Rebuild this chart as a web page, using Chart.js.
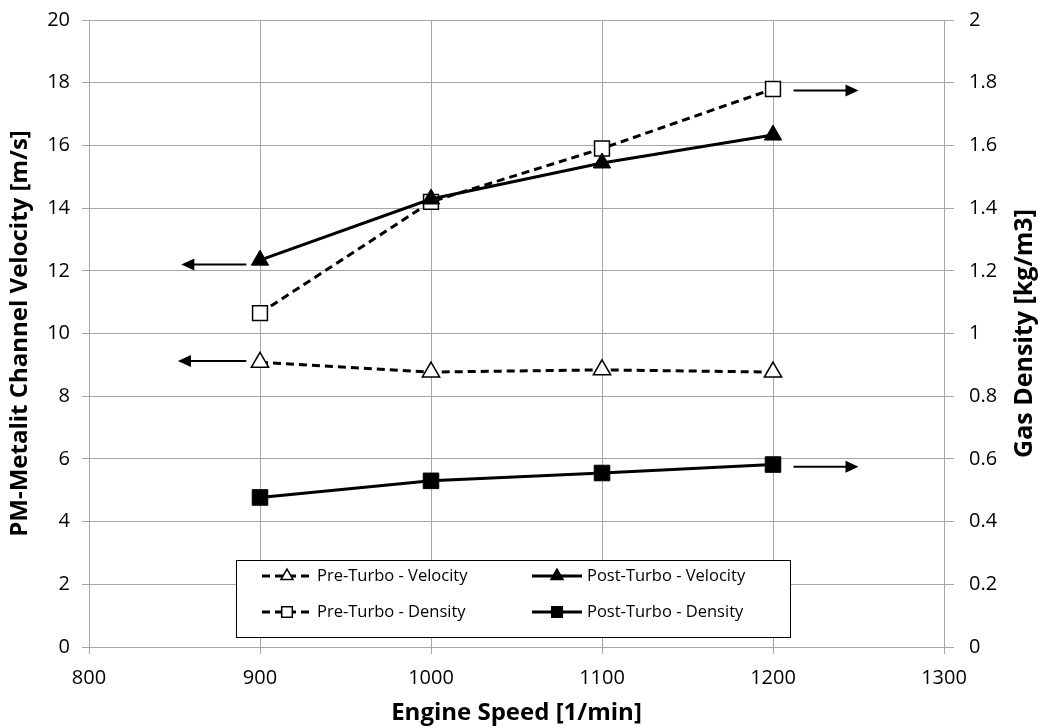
<!DOCTYPE html>
<html>
<head>
<meta charset="utf-8">
<script src="https://cdn.jsdelivr.net/npm/chart.js@4"></script>
<style>
  html, body { margin: 0; padding: 0; background: #fff; }
  #wrap { width: 1038px; height: 728px; }
</style>
</head>
<body>
<div id="wrap"><canvas id="chart" width="1038" height="728"></canvas></div>
<script>
const speeds = [900, 1000, 1100, 1200];
const preVelocity = [9.08, 8.77, 8.84, 8.77];
const postVelocity = [12.34, 14.29, 15.44, 16.33];
const preDensity = [1.065, 1.42, 1.59, 1.78];
const postDensity = [0.477, 0.53, 0.555, 0.582];

// arrows: [axis, yValue, xFrom, xTo]
const arrows = [
    ['y', 12.2, 892, 854],
    ['y', 9.12, 892, 852],
    ['y2', 1.775, 1212, 1250],
    ['y2', 0.575, 1212, 1250]
];

const font = "'Open Sans', sans-serif";
const gridColor = '#a6a6a6';

function pts(vals) {
    return speeds.map((s, i) => ({ x: s, y: vals[i] }));
}

const arrowPlugin = {
    id: 'arrows',
    afterDatasetsDraw(chart) {
        const ctx = chart.ctx;
        const xs = chart.scales.x;
        ctx.save();
        ctx.strokeStyle = '#000';
        ctx.fillStyle = '#000';
        ctx.lineWidth = 2;
        arrows.forEach(a => {
            const y = chart.scales[a[0]].getPixelForValue(a[1]);
            const x1 = xs.getPixelForValue(a[2]);
            const x2 = xs.getPixelForValue(a[3]);
            const dir = x2 > x1 ? 1 : -1;
            ctx.beginPath();
            ctx.moveTo(x1, y);
            ctx.lineTo(x2 - dir * 10, y);
            ctx.stroke();
            ctx.beginPath();
            ctx.moveTo(x2, y);
            ctx.lineTo(x2 - dir * 13, y - 6);
            ctx.lineTo(x2 - dir * 13, y + 6);
            ctx.closePath();
            ctx.fill();
        });
        ctx.restore();
    }
};

const legendPlugin = {
    id: 'boxLegend',
    afterDraw(chart) {
        const ctx = chart.ctx;
        const xs = chart.scales.x;
        const ys = chart.scales.y;
        const left = Math.round(xs.getPixelForValue(886));
        const right = Math.round(xs.getPixelForValue(1210));
        const top = Math.round(ys.getPixelForValue(2.78));
        const bottom = Math.round(ys.getPixelForValue(0.32));
        ctx.save();
        ctx.fillStyle = '#fff';
        ctx.fillRect(left, top, right - left, bottom - top);
        ctx.strokeStyle = '#000';
        ctx.lineWidth = 1;
        ctx.strokeRect(left + 0.5, top + 0.5, right - left, bottom - top);
        ctx.font = "16.5px " + font;
        ctx.textBaseline = 'middle';
        chart.data.datasets.forEach((ds, k) => {
            const col = k % 2, row = Math.floor(k / 2);
            const x0 = left + 26 + col * 270;
            const y0 = top + 16 + row * 36;
            ctx.strokeStyle = '#000';
            ctx.lineWidth = 3;
            ctx.setLineDash(ds.borderDash || []);
            ctx.beginPath();
            ctx.moveTo(x0, y0);
            ctx.lineTo(x0 + 50, y0);
            ctx.stroke();
            ctx.setLineDash([]);
            ctx.lineWidth = 1.5;
            ctx.fillStyle = ds.pointBackgroundColor;
            Chart.helpers.drawPoint(ctx, {
                pointStyle: ds.pointStyle,
                radius: ds.pointStyle === 'rect' ? 7.5 : 7,
                rotation: 0,
                borderWidth: 1.5
            }, x0 + 25, y0);
            ctx.fillStyle = '#000';
            ctx.fillText(ds.label, x0 + 55, y0);
        });
        ctx.restore();
    }
};

const rightTitle = {
    id: 'rightTitle',
    afterDraw(chart) {
        const ctx = chart.ctx;
        const a = chart.chartArea;
        ctx.save();
        ctx.translate(1025, (a.top + a.bottom) / 2);
        ctx.rotate(-Math.PI / 2);
        ctx.font = "bold 25px " + font;
        ctx.fillStyle = '#000';
        ctx.textAlign = 'center';
        ctx.textBaseline = 'middle';
        ctx.fillText('Gas Density [kg/m3]', 0, 0);
        ctx.restore();
    }
};

function fmt(v) {
    return String(Math.round(v * 10) / 10);
}

const tickFont = { family: font, size: 20 };
const titleFont = { family: font, size: 24, weight: 'bold' };

const config = {
    type: 'line',
    data: {
        datasets: [
            {
                label: 'Pre-Turbo - Velocity',
                data: pts(preVelocity),
                yAxisID: 'y',
                borderColor: '#000',
                borderWidth: 3,
                borderDash: [8, 5],
                pointStyle: 'triangle',
                pointRadius: 10,
                pointBackgroundColor: '#fff',
                pointBorderColor: '#000',
                pointBorderWidth: 1.5
            },
            {
                label: 'Post-Turbo - Velocity',
                data: pts(postVelocity),
                yAxisID: 'y',
                borderColor: '#000',
                borderWidth: 3,
                pointStyle: 'triangle',
                pointRadius: 10,
                pointBackgroundColor: '#000',
                pointBorderColor: '#000',
                pointBorderWidth: 1
            },
            {
                label: 'Pre-Turbo - Density',
                data: pts(preDensity),
                yAxisID: 'y2',
                borderColor: '#000',
                borderWidth: 3,
                borderDash: [8, 5],
                pointStyle: 'rect',
                pointRadius: 10.5,
                pointBackgroundColor: '#fff',
                pointBorderColor: '#000',
                pointBorderWidth: 1.5
            },
            {
                label: 'Post-Turbo - Density',
                data: pts(postDensity),
                yAxisID: 'y2',
                borderColor: '#000',
                borderWidth: 3,
                pointStyle: 'rect',
                pointRadius: 11,
                pointBackgroundColor: '#000',
                pointBorderColor: '#000',
                pointBorderWidth: 1
            }
        ]
    },
    options: {
        responsive: false,
        animation: false,
        layout: { padding: { top: 20, right: 0, left: 0, bottom: 0 } },
        plugins: {
            legend: { display: false },
            tooltip: { enabled: false }
        },
        scales: {
            x: {
                type: 'linear',
                min: 800, max: 1300,
                afterFit(s) { s.height = 81; s.paddingLeft = 0; s.paddingRight = 0; },
                ticks: { stepSize: 100, color: '#000', font: tickFont, padding: 12, callback: v => String(v) },
                grid: { color: gridColor, tickLength: 7 },
                border: { color: gridColor },
                title: { display: true, text: 'Engine Speed [1/min]', color: '#000', font: titleFont, padding: { top: 0, bottom: 0 } }
            },
            y: {
                position: 'left',
                min: 0, max: 20,
                afterFit(s) { s.width = 89; s.paddingTop = 0; s.paddingBottom = 0; },
                ticks: { stepSize: 2, color: '#000', font: tickFont, padding: 12, callback: fmt },
                grid: { color: gridColor, tickLength: 7 },
                border: { color: gridColor },
                title: { display: true, text: 'PM-Metalit Channel Velocity [m/s]', color: '#000', font: titleFont, padding: { top: 6, bottom: 0 } }
            },
            y2: {
                position: 'right',
                min: 0, max: 2,
                afterFit(s) { s.width = 94; s.paddingTop = 0; s.paddingBottom = 0; },
                ticks: { stepSize: 0.2, color: '#000', font: tickFont, padding: 15, callback: fmt },
                grid: { drawOnChartArea: false, color: gridColor, tickLength: 10 },
                border: { color: gridColor }
            }
        }
    },
    plugins: [arrowPlugin, legendPlugin, rightTitle]
};

new Chart(document.getElementById('chart'), config);
</script>
</body>
</html>
